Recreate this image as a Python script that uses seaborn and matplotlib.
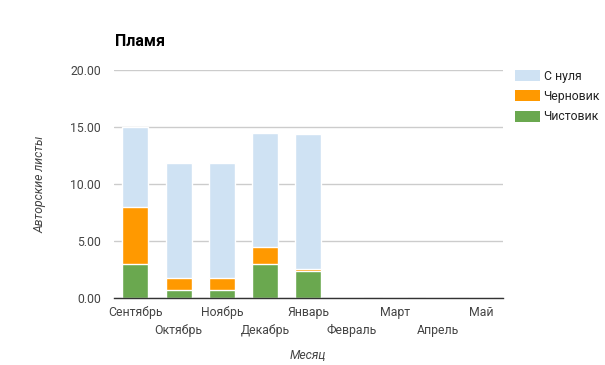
import numpy as np
import pandas as pd
import matplotlib
matplotlib.use("Agg")
import matplotlib.pyplot as plt
from matplotlib.patches import Patch
import seaborn as sns

# data
months = ["Сентябрь", "Октябрь", "Ноябрь", "Декабрь", "Январь",
          "Февраль", "Март", "Апрель", "Май"]
chistovik = [3.0, 0.7, 0.7, 3.0, 2.35, 0, 0, 0, 0]
chernovik = [5.0, 1.05, 1.05, 1.5, 0.15, 0, 0, 0, 0]
s_nulya = [7.0, 10.05, 10.05, 10.0, 11.9, 0, 0, 0, 0]

series_names = ["С нуля", "Черновик", "Чистовик"]
colors = {"С нуля": "#cfe2f3", "Черновик": "#ff9900", "Чистовик": "#6aa84f"}

df = pd.DataFrame({"month": months, "Чистовик": chistovik,
                   "Черновик": chernovik, "С нуля": s_nulya})
# cumulative heights for stacking (draw tallest first)
df["cum_green"] = df["Чистовик"]
df["cum_orange"] = df["cum_green"] + df["Черновик"]
df["cum_blue"] = df["cum_orange"] + df["С нуля"]

sns.set_style("white")
plt.rcParams["font.family"] = ["Roboto", "DejaVu Sans"]

fig = plt.figure(figsize=(6.05, 3.65), dpi=100)
ax = fig.add_axes([0.188, 0.1836, 0.643, 0.6246])

for col, name in [("cum_blue", "С нуля"), ("cum_orange", "Черновик"), ("cum_green", "Чистовик")]:
    sns.barplot(data=df, x="month", y=col, color=colors[name], ax=ax,
                width=0.6, edgecolor="white", linewidth=1, saturation=1)

ax.set_ylim(0, 20)
ax.set_yticks([0, 5, 10, 15, 20])
ax.set_yticklabels(["%.2f" % v for v in [0, 5, 10, 15, 20]])
ax.set_xlim(-0.5, len(months) - 0.5)
ax.yaxis.grid(True, color="#cccccc", linewidth=1)
ax.set_axisbelow(True)
for s in ["top", "right", "left"]:
    ax.spines[s].set_visible(False)
ax.spines["bottom"].set_color("#333333")
ax.spines["bottom"].set_linewidth(1)

# staggered x labels: even on major ticks, odd on minor ticks further down
even = list(range(0, len(months), 2))
odd = list(range(1, len(months), 2))
ax.set_xticks(even)
ax.set_xticklabels([months[i] for i in even], fontsize=8.8, color="#444444")
ax.set_xticks(odd, minor=True)
ax.set_xticklabels([months[i] for i in odd], minor=True, fontsize=8.8, color="#444444")
ax.tick_params(axis="x", which="major", length=0, pad=6)
ax.tick_params(axis="x", which="minor", length=0, pad=19)
ax.tick_params(axis="y", labelsize=8.8, labelcolor="#444444", length=0, pad=9)

ax.set_xlabel("Месяц", fontsize=8.8, style="italic", color="#444444", labelpad=8)
ax.set_ylabel("Авторские листы", fontsize=8.8, style="italic", color="#444444", labelpad=17)

fig.text(0.19, 0.873, "Пламя", fontsize=11.5, fontweight="bold", color="black")

handles = [Patch(facecolor=colors[n], edgecolor="none") for n in series_names]
fig.legend(handles, series_names, loc="upper left", bbox_to_anchor=(0.848, 0.816),
           frameon=False, fontsize=8.8, labelcolor="#222222", handlelength=2.0,
           handleheight=1.0, handletextpad=0.3, labelspacing=0.6, borderaxespad=0,
           borderpad=0.2)

fig.savefig("out.png", dpi=100)
